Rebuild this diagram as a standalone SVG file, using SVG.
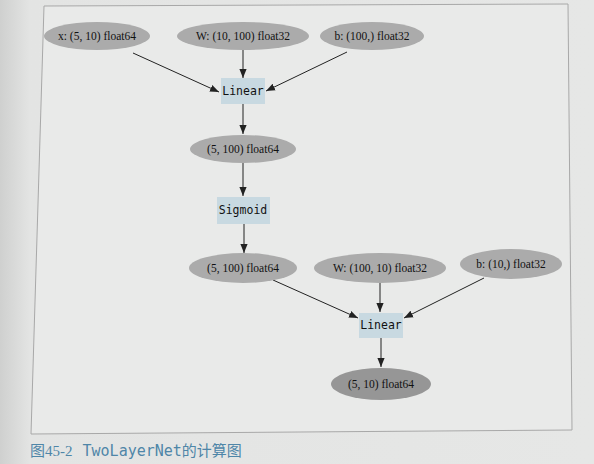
<svg xmlns="http://www.w3.org/2000/svg" width="594" height="464" viewBox="0 0 594 464">
<style>
.var ellipse{fill:#ababab;}
.out ellipse{fill:#969696;}
.fn rect{fill:#c8d9e1;}
.vt{font-family:"Liberation Serif","DejaVu Serif",serif;font-size:11.5px;fill:#111;text-anchor:middle;}
.ft{font-family:"DejaVu Sans Mono","Liberation Mono",monospace;font-size:11.5px;fill:#111;text-anchor:middle;}
.edge line{stroke:#222;stroke-width:1;marker-end:url(#ah);}
</style>
<defs>
<marker id="ah" viewBox="0 0 10 10" refX="10" refY="5" markerWidth="9" markerHeight="9" markerUnits="userSpaceOnUse" orient="auto">
<path d="M0,1 L10,5 L0,9 Z" fill="#222"/>
</marker>
<linearGradient id="pg" x1="0" y1="0" x2="1" y2="0">
<stop offset="0" stop-color="#cfd0cf"/>
<stop offset="0.05" stop-color="#e3e4e3"/>
<stop offset="1" stop-color="#e6e7e6"/>
</linearGradient>
</defs>
<rect x="0" y="0" width="594" height="464" fill="url(#pg)"/>
<polygon points="44,6 568,4 572,430 31,434" fill="#e9eae9" stroke="#a8a8a8" stroke-width="1"/>
<g class="edge">
<line x1="133" y1="53" x2="219" y2="92"/>
<line x1="243" y1="50" x2="243" y2="78"/>
<line x1="347" y1="52" x2="266" y2="91"/>
<line x1="243" y1="104" x2="243" y2="134"/>
<line x1="243" y1="163" x2="243" y2="196"/>
<line x1="244" y1="224" x2="244" y2="253"/>
<line x1="273" y1="280" x2="358" y2="318"/>
<line x1="380" y1="282" x2="380" y2="312"/>
<line x1="484" y1="278" x2="404" y2="318"/>
<line x1="381" y1="338" x2="381" y2="367"/>
</g>
<g id="x1" class="var"><ellipse cx="97" cy="36" rx="53" ry="14"/><text class="vt" x="97" y="40">x: (5, 10) float64</text></g>
<g id="W1" class="var"><ellipse cx="243" cy="36" rx="66" ry="14"/><text class="vt" x="243" y="40">W: (10, 100) float32</text></g>
<g id="b1" class="var"><ellipse cx="372" cy="36" rx="52" ry="14"/><text class="vt" x="372" y="40">b: (100,) float32</text></g>
<g id="linear1" class="fn"><rect x="221" y="78" width="44" height="26"/><text class="ft" x="243" y="95">Linear</text></g>
<g id="h1" class="var"><ellipse cx="243" cy="149" rx="53" ry="14"/><text class="vt" x="243" y="153">(5, 100) float64</text></g>
<g id="sigmoid" class="fn"><rect x="217" y="197" width="53" height="27"/><text class="ft" x="243" y="214">Sigmoid</text></g>
<g id="h2" class="var"><ellipse cx="243" cy="268" rx="54" ry="15"/><text class="vt" x="243" y="272">(5, 100) float64</text></g>
<g id="W2" class="var"><ellipse cx="380" cy="268" rx="66" ry="15"/><text class="vt" x="380" y="272">W: (100, 10) float32</text></g>
<g id="b2" class="var"><ellipse cx="511" cy="264" rx="51" ry="15"/><text class="vt" x="511" y="268">b: (10,) float32</text></g>
<g id="linear2" class="fn"><rect x="359" y="313" width="44" height="25"/><text class="ft" x="381" y="329">Linear</text></g>
<g id="y" class="out"><ellipse cx="381" cy="384" rx="50" ry="16"/><text class="vt" x="381" y="388">(5, 10) float64</text></g>
<text x="30" y="456" font-size="15" fill="#4f86a8"><tspan font-family="Noto Sans CJK SC,sans-serif">图</tspan><tspan font-family="Liberation Serif,serif">45-2</tspan><tspan font-family="DejaVu Sans Mono,monospace" dx="10">TwoLayerNet</tspan><tspan font-family="Noto Sans CJK SC,sans-serif">的计算图</tspan></text>
</svg>
